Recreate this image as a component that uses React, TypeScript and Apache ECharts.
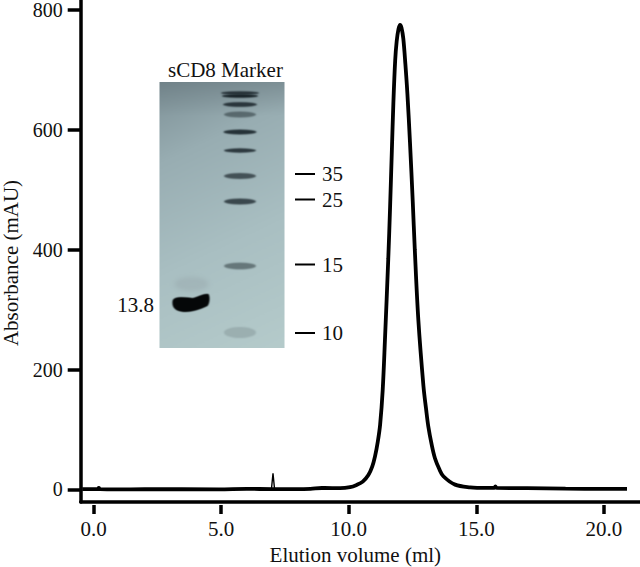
import React, { useEffect, useRef } from "react";
import * as echarts from "echarts";

const volumeMl = [-0.45, 0.15, 0.2, 0.25, 0.9, 2.0, 4.9, 6.0, 7.0, 8.0, 8.5, 8.95, 9.05, 9.66, 10.05, 10.31, 10.55, 10.77, 10.92, 11.03, 11.14, 11.23, 11.33, 11.42, 11.55, 11.62, 11.69, 11.75, 11.82, 11.88, 11.95, 12.01, 12.07, 12.14, 12.22, 12.3, 12.4, 12.51, 12.59, 12.73, 12.93, 13.03, 13.12, 13.25, 13.38, 13.55, 13.71, 14.17, 14.76, 15.4, 15.7, 15.75, 15.8, 17.0, 18.5, 20.0, 20.91];
const absorbance = [0.4, 0.4, 2.5, 0.4, 0, 0.4, 0.2, 0.8, 0.6, 0.4, 1, 2.4, 2.4, 2, 3.7, 7.5, 13, 24, 38, 55, 80, 108, 165, 250, 385, 470, 565, 645, 715, 748, 768, 775, 770, 752, 710, 660, 580, 480, 400, 282, 172, 135, 105, 75, 52, 34, 22, 8, 3.5, 2.5, 2.5, 5, 2.5, 2, 1.2, 1, 1];
const spikeVolume = [6.97, 7.03, 7.09];
const spikeAbsorbance = [1, 27, 1];
const xTicks = [0, 5, 10, 15, 20];
const yTicks = [0, 200, 400, 600, 800];
const laneLabels = "sCD8 Marker";
const sampleLabel = "13.8";
const markerLabels = [
  { text: "35", y: 174 },
  { text: "25", y: 199.5 },
  { text: "15", y: 264.5 },
  { text: "10", y: 333 },
];
const markerBands = [
  { y: 11, h: 1.8, a: 0.8, w: 38 },
  { y: 14, h: 1.8, a: 0.95, w: 36 },
  { y: 22.5, h: 2.4, a: 0.8, w: 34 },
  { y: 32.5, h: 3.0, a: 0.45, w: 32 },
  { y: 50, h: 2.5, a: 0.85, w: 33 },
  { y: 68.5, h: 2.2, a: 0.8, w: 32 },
  { y: 94, h: 3.0, a: 0.65, w: 32 },
  { y: 119.5, h: 3.0, a: 0.72, w: 32 },
  { y: 184, h: 3.4, a: 0.45, w: 32 },
  { y: 250.5, h: 5.5, a: 0.14, w: 32 },
];

const FONT = "'Liberation Serif', 'Times New Roman', serif";
const GEL_W = 125;
const GEL_H = 266;

function drawGel(): string {
  const s = 2;
  const c = document.createElement("canvas");
  c.width = GEL_W * s;
  c.height = GEL_H * s;
  const g = c.getContext("2d") as CanvasRenderingContext2D;
  g.scale(s, s);
  const bg = g.createLinearGradient(0, 0, GEL_W, GEL_H);
  bg.addColorStop(0, "#7d9096");
  bg.addColorStop(0.25, "#98adb2");
  bg.addColorStop(0.6, "#a9bfc2");
  bg.addColorStop(1, "#b5cbcb");
  g.fillStyle = bg;
  g.fillRect(0, 0, GEL_W, GEL_H);

  const top = g.createLinearGradient(0, 0, 0, 34);
  top.addColorStop(0, "rgba(90,105,112,0.35)");
  top.addColorStop(1, "rgba(90,105,112,0)");
  g.fillStyle = top;
  g.fillRect(0, 0, GEL_W, 34);

  const cx = 80.5;
  g.filter = "blur(1.4px)";
  for (const b of markerBands) {
    g.fillStyle = `rgba(18,28,34,${b.a})`;
    g.beginPath();
    g.ellipse(cx, b.y, b.w / 2, b.h, 0, 0, Math.PI * 2);
    g.fill();
  }
  // smear of the sample lane above the main band
  g.filter = "blur(4px)";
  g.fillStyle = "rgba(150,165,170,0.4)";
  g.beginPath();
  g.ellipse(32, 202, 17, 7, 0, 0, Math.PI * 2);
  g.fill();
  // main sample band
  g.filter = "blur(0.9px)";
  g.fillStyle = "#050708";
  g.beginPath();
  g.moveTo(13, 219);
  g.bezierCurveTo(14, 214, 25, 215, 33, 216);
  g.bezierCurveTo(38, 215, 44, 211, 49, 212);
  g.bezierCurveTo(51, 215, 50, 222, 48, 224);
  g.bezierCurveTo(40, 228, 32, 230, 26, 230);
  g.bezierCurveTo(18, 230, 12, 227, 13, 219);
  g.fill();
  g.filter = "none";
  return c.toDataURL("image/png");
}

export default function App() {
  const ref = useRef<HTMLDivElement>(null);
  useEffect(() => {
    if (!ref.current) return;
    const chart = echarts.init(ref.current, undefined, { renderer: "svg" });
    const axisLine = { lineStyle: { color: "#000", width: 3.5 } };
    const numStyle = { fontFamily: FONT, fontSize: 21, lineHeight: 18, color: "#111" };
    const serifText = (text: string, x: number, y: number, align = "left") => ({
      type: "text",
      style: { text, x, y, align, verticalAlign: "middle", fontFamily: FONT, fontSize: 21, fill: "#111" },
    });
    chart.setOption({
      animation: false,
      backgroundColor: "#fff",
      grid: { left: 80.7, top: 0, width: 559.3, height: 502, outerBoundsMode: "none", containLabel: false },
      xAxis: [
        {
          type: "value", min: -0.51, max: 21.42, offset: 3,
          name: "Elution volume (ml)", nameLocation: "middle", nameGap: 39,
          nameTextStyle: { ...numStyle, padding: [0, 10, 0, 0] },
          splitLine: { show: false },
          axisLine: { show: false, onZero: false },
          axisTick: { show: true, length: 9, customValues: xTicks, lineStyle: { color: "#000", width: 3.5 } },
          axisLabel: { ...numStyle, margin: 15, customValues: xTicks, formatter: (v: number) => v.toFixed(1) },
        },
        {
          type: "value", min: -0.51, max: 21.42, position: "bottom",
          splitLine: { show: false }, axisTick: { show: false }, axisLabel: { show: false },
          axisLine: { show: true, onZero: false, ...axisLine },
        },
      ],
      yAxis: {
        type: "value", min: -21, max: 816.7,
        name: "Absorbance (mAU)", nameLocation: "middle", nameGap: 58,
        nameTextStyle: { ...numStyle, padding: [0, 24, 0, 0] },
        splitLine: { show: false },
        axisLine: { show: true, onZero: false, ...axisLine },
        axisTick: { show: true, length: 13, customValues: yTicks, lineStyle: { color: "#000", width: 3.5 } },
        axisLabel: { ...numStyle, fontSize: 20, margin: 18, customValues: yTicks },
      },
      series: [
        {
          type: "line", name: "Absorbance", symbol: "none", smooth: 0.35,
          lineStyle: { color: "#000", width: 3.8 },
          data: volumeMl.map((v, i) => [v, absorbance[i]]),
        },
        {
          type: "line", name: "Spike", symbol: "none",
          lineStyle: { color: "#000", width: 1.4 },
          data: spikeVolume.map((v, i) => [v, spikeAbsorbance[i]]),
        },
      ],
      graphic: [
        { type: "image", x: 159.5, y: 82, style: { image: drawGel(), x: 0, y: 0, width: GEL_W, height: GEL_H } },
        serifText(laneLabels, 168, 70),
        serifText(sampleLabel, 154, 305, "right"),
        ...markerLabels.flatMap((m) => [
          { type: "line", shape: { x1: 295, y1: m.y, x2: 315, y2: m.y }, style: { stroke: "#000", lineWidth: 2 } },
          serifText(m.text, 322, m.y),
        ]),
      ],
    });
    return () => chart.dispose();
  }, []);
  return <div ref={ref} style={{ position: "fixed", left: 0, top: 0, width: 640, height: 567 }} />;
}
